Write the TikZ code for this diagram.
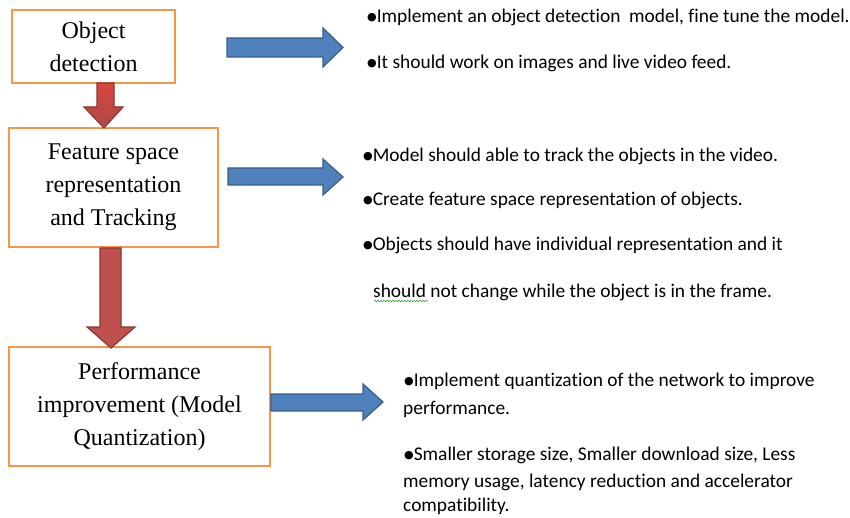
\documentclass[tikz,border=0pt]{standalone}
\usepackage{fontspec}
\setmainfont{Liberation Serif}
\newfontfamily\calfont[Ligatures={NoCommon}]{Carlito}
\newfontfamily\symfont{DejaVu Sans}
\usetikzlibrary{decorations.pathmorphing}
\definecolor{boxorange}{HTML}{F79646}
\definecolor{bluefill}{HTML}{4F81BD}
\definecolor{blueline}{HTML}{385D8A}
\definecolor{redfill}{HTML}{C0504D}
\definecolor{redline}{HTML}{8C3836}
\definecolor{redtop}{HTML}{D9463F}
\definecolor{squiggle}{HTML}{3A9A3A}
\newcommand{\bul}{\raisebox{1.2pt}{\symfont\fontsize{11}{12}\selectfont ●}}
\begin{document}
\begin{tikzpicture}[x=1pt,y=-1pt,
  stagebox/.style={draw=boxorange,line width=2.6pt,fill=white,inner sep=0pt,align=center,
    font=\fontsize{24}{33}\selectfont},
  bullettext/.style={anchor=west,inner sep=0pt,font=\calfont\fontsize{19.4}{22}\selectfont},
  bluearrow/.style={fill=bluefill,draw=blueline,line width=1.2pt,line join=miter},
  redarrow/.style={fill=redfill,draw=redline,line width=1.2pt,line join=miter}]
\useasboundingbox (0,0) rectangle (850,518);
% stage boxes
\node[stagebox,minimum width=163pt,minimum height=73pt] (b1) at (93.5,46.5) {Object\\detection};
\node[stagebox,minimum width=209pt,minimum height=119pt] (b2) at (113.5,187.5) {Feature space\\representation\\and Tracking};
\node[stagebox,minimum width=261pt,minimum height=119pt] (b3) at (139.5,406.5) {Performance\\improvement (Model\\Quantization)};
% red block arrows (down)
\path[redarrow,top color=redtop,bottom color=redfill!90!black]
  (97,83) -- (114,83) -- (114,107) -- (123,107) -- (104,128) -- (84,107) -- (97,107) -- cycle;
\path[redarrow]
  (100,248) -- (121,248) -- (121,327) -- (135,327) -- (111,348) -- (87,327) -- (100,327) -- cycle;
% blue block arrows (right)
\path[bluearrow]
  (227,38) -- (323,38) -- (323,28) -- (343,47.5) -- (323,67) -- (323,57) -- (227,57) -- cycle;
\path[bluearrow]
  (228,168) -- (323,168) -- (323,159) -- (343,177) -- (323,195) -- (323,185) -- (228,185) -- cycle;
\path[bluearrow]
  (271,394) -- (363,394) -- (363,384) -- (383,402) -- (363,420) -- (363,411) -- (271,411) -- cycle;
% bullet texts
\node[bullettext] (t1) at (367,17) {\bul Implement an object detection \ model, fine tune the model.};
\node[bullettext] (t2) at (367,63) {\bul It should work on images and live video feed.};
\node[bullettext] (m1) at (363,156) {\bul Model should able to track the objects in the video.};
\node[bullettext] (m2) at (363,200) {\bul Create feature space representation of objects.};
\node[bullettext] (m3) at (363,245) {\bul Objects should have individual representation and it};
\node[bullettext] (m4) at (373,292) {should not change while the object is in the frame.};
\node[bullettext] (q1) at (404,381) {\bul Implement quantization of the network to improve};
\node[bullettext] (q2) at (403,409) {performance.};
\node[bullettext] (q3) at (404,455) {\bul Smaller storage size, Smaller download size, Less};
\node[bullettext] (q4) at (403,482) {memory usage, latency reduction and accelerator};
\node[bullettext] (q5) at (403,506) {compatibility.};
% spell-check squiggle under "should"
\draw[squiggle,line width=0.6pt,decorate,decoration={snake,amplitude=0.8pt,segment length=3pt}]
  (374,301) -- (428,301);
\end{tikzpicture}
\end{document}
